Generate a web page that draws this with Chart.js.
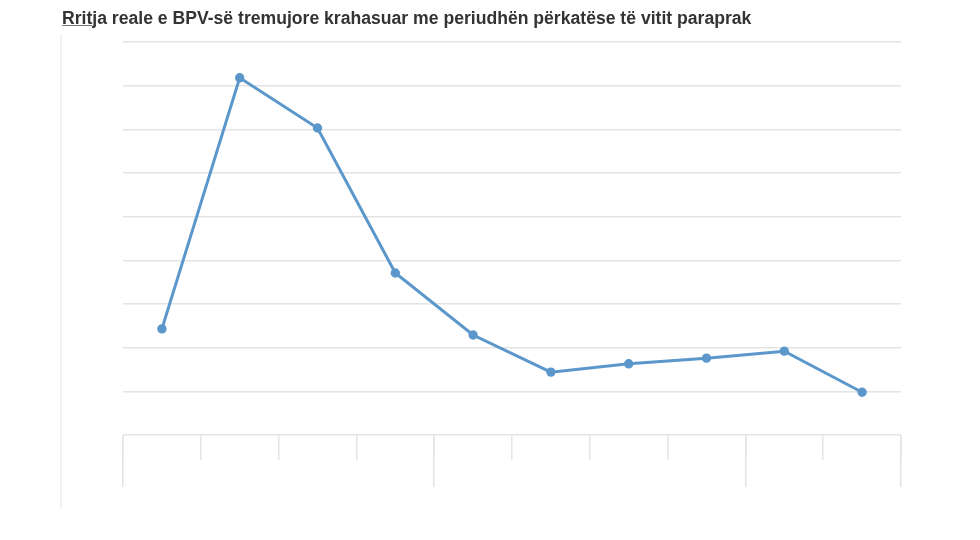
<!DOCTYPE html>
<html>
<head>
<meta charset="utf-8">
<script src="https://cdn.jsdelivr.net/npm/chart.js@4.4.0/dist/chart.umd.min.js"></script>
<style>
  html, body { margin: 0; padding: 0; background: #fff; }
  #wrap { position: relative; width: 980px; height: 540px; }
  #titull {
    position: absolute; left: 62px; top: 8px;
    font: bold 17.6px "Liberation Sans", Arial, sans-serif; color: #333;
    white-space: nowrap;
  }
  #titull u { text-decoration-color: #777; }
  #kufi {
    position: absolute; left: 60px; top: 34px; width: 0; height: 474px;
    border-left: 2px solid #f2f2f2;
  }
  canvas { position: absolute; left: 0; top: 0; }
</style>
</head>
<body>
<div id="wrap">
  <canvas id="grafiku" width="980" height="540"></canvas>
  <div id="kufi"></div>
  <div id="titull"><u>Rrit</u>ja reale e BPV-së tremujore krahasuar me periudhën përkatëse të vitit paraprak</div>
</div>
<script>
// === TË DHËNAT ===
const tremujoret = ['T1', 'T2', 'T3', 'T4', 'T1', 'T2', 'T3', 'T4', 'T1', 'T2'];
const vitet = [4, 4, 2]; // sa tremujorë ka çdo vit
const rritja = [2.43, 8.18, 7.03, 3.71, 2.29, 1.44, 1.63, 1.76, 1.92, 0.98];
const yMin = 0, yMax = 9, hapi = 1;

// kufijtë e viteve (0, 4, 8, 10)
const kufijte = [0];
vitet.forEach(n => kufijte.push(kufijte[kufijte.length - 1] + n));

const ngjyraRrjeti = '#e4e4e4';
const ngjyraVije = '#5b97cb';

const ctx = document.getElementById('grafiku').getContext('2d');
new Chart(ctx, {
  type: 'line',
  data: {
    labels: tremujoret,
    datasets: [{
      data: rritja,
      borderColor: ngjyraVije,
      backgroundColor: ngjyraVije,
      borderWidth: 3,
      pointRadius: 3.2,
      pointHoverRadius: 4,
      tension: 0
    }]
  },
  options: {
    responsive: false,
    animation: false,
    layout: { padding: { left: 123, right: 79, top: 42, bottom: 105 } },
    plugins: { legend: { display: false }, tooltip: { enabled: false } },
    scales: {
      x: {
        offset: true,
        ticks: { display: false },
        border: { display: false },
        grid: { offset: true, drawOnChartArea: false, color: ngjyraRrjeti, lineWidth: 1.5, tickLength: 25 },
        afterFit: s => { s.height = 0; }
      },
      vitet: {
        type: 'linear',
        position: 'bottom',
        min: kufijte[0],
        max: kufijte[kufijte.length - 1],
        afterBuildTicks: s => { s.ticks = kufijte.map(v => ({ value: v })); },
        ticks: { display: false },
        border: { display: false },
        grid: { drawOnChartArea: false, color: ngjyraRrjeti, lineWidth: 1.5, tickLength: 52 },
        afterFit: s => { s.height = 0; }
      },
      y: {
        min: yMin,
        max: yMax,
        ticks: { display: false, stepSize: hapi },
        border: { display: false },
        grid: { color: ngjyraRrjeti, lineWidth: 1.5, drawTicks: false },
        afterFit: s => { s.width = 0; }
      }
    }
  }
});
</script>
</body>
</html>
